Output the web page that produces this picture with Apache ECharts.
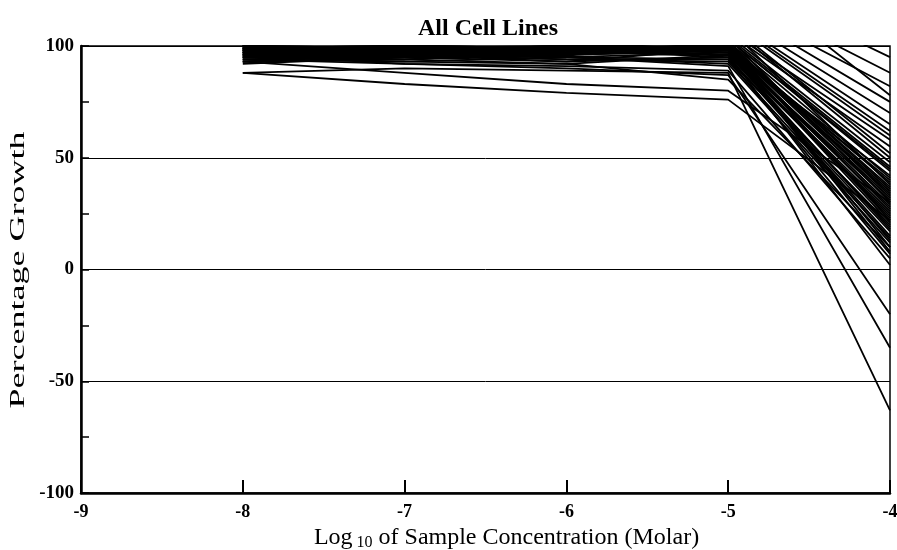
<!DOCTYPE html>
<html>
<head>
<meta charset="utf-8">
<script src="https://cdn.jsdelivr.net/npm/echarts@6/dist/echarts.min.js"></script>
<style>
  html, body { margin: 0; padding: 0; background: #fff; }
  #chart { width: 897px; height: 550px; }
</style>
</head>
<body>
<div id="chart"></div>
<script>
// log10 molar concentrations where growth was measured
var concentrations = [-8, -7, -6, -5, -4];

// percentage growth per cell line, one value per concentration
var cellLines = [
    [98, 97, 99, 100, 35],
    [96, 99, 97, 98, 28],
    [100, 98, 96, 101, 22],
    [94, 96, 93, 99, 40],
    [99, 100, 98, 104, 30],
    [97, 95, 99, 97, 18],
    [95, 98, 100, 103, 45],
    [100, 99, 97, 96, 25],
    [93, 97, 95, 92, 12],
    [98, 100, 99, 108, 38],
    [96, 94, 97, 99, 8],
    [99, 98, 100, 102, 33],
    [97, 99, 98, 95, 15],
    [92, 95, 96, 98, 42],
    [100, 97, 99, 106, 55],
    [98, 96, 95, 94, 20],
    [95, 99, 98, 100, 27],
    [99, 100, 97, 105, 48],
    [97, 98, 100, 99, 10],
    [94, 92, 91, 89, 5],
    [100, 99, 98, 112, 62],
    [96, 98, 97, 101, 36],
    [98, 95, 99, 97, 24],
    [99, 97, 96, 115, 70],
    [97, 100, 99, 98, 31],
    [95, 96, 94, 93, 14],
    [100, 98, 100, 120, 82],
    [93, 94, 92, 96, 2],
    [98, 99, 97, 110, 52],
    [96, 97, 98, 100, 39],
    [99, 96, 95, 118, 75],
    [97, 99, 100, 97, 26],
    [88, 90, 89, 88, -63],
    [94, 93, 95, 91, -35],
    [96, 92, 90, 87, -20],
    [88, 83, 79, 76, 22],
    [93, 88, 83, 80, 30],
    [95, 93, 92, 85, 10],
    [98, 97, 95, 125, 88],
    [100, 99, 98, 130, 95],
    [97, 98, 96, 113, 65],
    [99, 100, 99, 103, 44],
    [95, 97, 99, 96, 19],
    [98, 96, 97, 100, 34],
    [96, 99, 98, 99, 29],
    [100, 97, 100, 107, 58],
    [94, 95, 93, 95, 17],
    [97, 100, 99, 102, 41],
    [99, 98, 96, 98, 23],
    [95, 94, 97, 109, 50],
    [98, 99, 98, 101, 37],
    [97, 96, 100, 104, 46],
    [99, 98, 97, 135, 78],
    [96, 97, 95, 97, 13],
    [98, 100, 98, 100, 32],
    [93, 96, 94, 94, 7],
    [97, 95, 96, 99, 21],
    [99, 99, 100, 111, 60]
];

var yTicks = [-100, -50, 0, 50, 100];

var font = '"Liberation Serif", "Times New Roman", serif';

var series = cellLines.map(function (values, i) {
    return {
        name: 'line' + i,
        type: 'line',
        symbol: 'none',
        clip: true,
        silent: true,
        lineStyle: { color: '#000', width: 1.8 },
        data: concentrations.map(function (c, j) { return [c, values[j]]; })
    };
});

var option = {
    animation: false,
    backgroundColor: '#fff',
    title: {
        text: 'All Cell Lines',
        left: 483,
        top: 12,
        textAlign: 'center',
        textStyle: { fontFamily: font, fontWeight: 'bold', fontSize: 24, color: '#000' }
    },
    // the scanned y title is stretched along its length
    graphic: [{
        type: 'text',
        x: 19,
        y: 270,
        rotation: Math.PI / 2,
        scaleX: 1.8,
        style: {
            text: 'Percentage Growth',
            font: '20px ' + font,
            fill: '#000',
            align: 'center',
            verticalAlign: 'middle'
        }
    }],
    grid: {
        left: 81,
        right: 7,
        top: 46,
        bottom: 57,
        outerBoundsMode: 'none',
        show: true,
        borderColor: '#000',
        borderWidth: 1.5
    },
    xAxis: {
        type: 'value',
        min: -9,
        max: -4,
        interval: 1,
        name: '{a|Log}{s| 10}{a| of Sample Concentration (Molar)}',
        nameLocation: 'middle',
        nameGap: 32,
        nameTextStyle: {
            padding: [0, 0, 0, 42],
            rich: {
                a: { fontFamily: font, fontSize: 24, color: '#000' },
                s: { fontFamily: font, fontSize: 16, color: '#000', padding: [10, 0, 0, 0] }
            }
        },
        axisLine: { onZero: false, lineStyle: { color: '#000', width: 2.5 } },
        axisTick: { inside: true, length: 13, lineStyle: { color: '#000', width: 2 } },
        axisLabel: { fontFamily: font, fontWeight: 'bold', fontSize: 18, color: '#000', margin: 10 },
        splitLine: { show: false }
    },
    yAxis: {
        type: 'value',
        min: -100,
        max: 100,
        interval: 50,
        axisLine: { onZero: false, lineStyle: { color: '#000', width: 2.5 } },
        axisTick: { inside: true, length: 8, lineStyle: { color: '#000', width: 1.5 } },
        minorTick: { show: true, splitNumber: 2, length: 8, lineStyle: { color: '#000', width: 1.5 } },
        axisLabel: {
            fontFamily: font, fontWeight: 'bold', fontSize: 19, color: '#000', margin: 7,
            formatter: function (v) { return yTicks.indexOf(v) >= 0 ? String(v) : ''; }
        },
        splitLine: { show: true, lineStyle: { color: '#000', width: 1 } }
    },
    series: series
};

var chart = echarts.init(document.getElementById('chart'));
chart.setOption(option);
</script>
</body>
</html>
